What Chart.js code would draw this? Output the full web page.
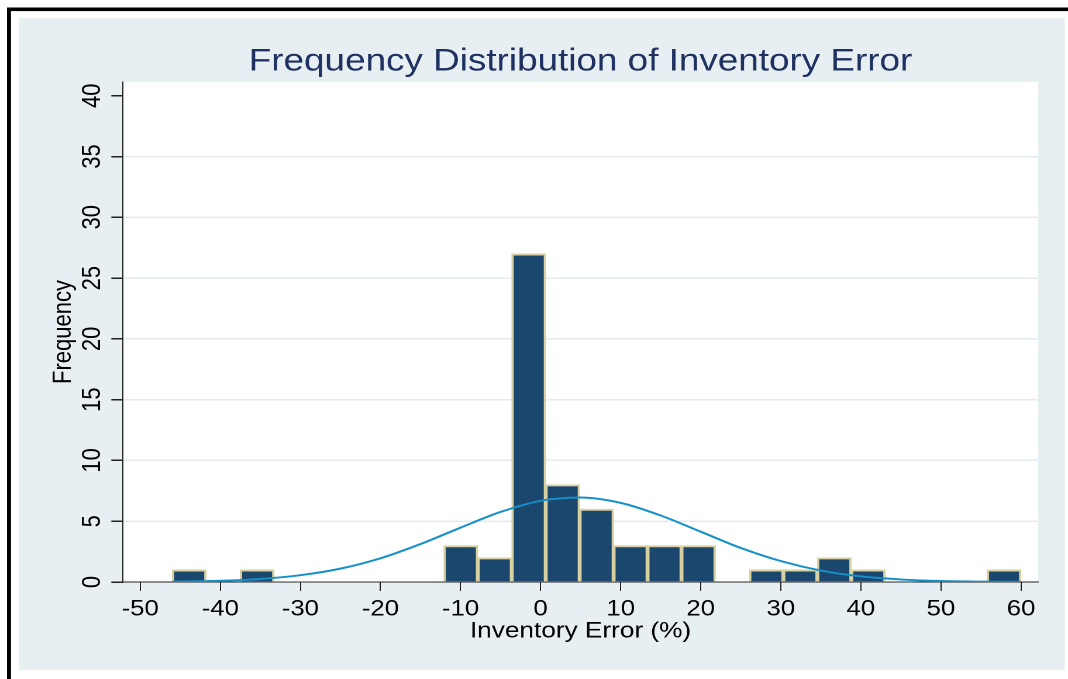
<!DOCTYPE html>
<html>
<head>
<meta charset="utf-8">
<script src="https://cdn.jsdelivr.net/npm/chart.js@4.4.1/dist/chart.umd.min.js"></script>
<style>
  html, body { margin: 0; padding: 0; background: #fff; overflow: hidden; }
  /* the reference is a Stata graph stretched sideways, so draw narrow and stretch */
  #wrap { width: 913px; height: 679px; transform: scaleX(1.16977); transform-origin: 0 0; }
</style>
</head>
<body>
<div id="wrap"><canvas id="histChart" width="913" height="679"></canvas></div>
<script>
// Histogram bins (width ~4.24, starting at -46)
const binCenters = [-43.88, -39.64, -35.40, -31.16, -26.92, -22.68, -18.44, -14.20, -9.96, -5.72,
                    -1.48, 2.76, 7.00, 11.24, 15.48, 19.72, 23.96, 28.20, 32.44, 36.68,
                    40.92, 45.16, 49.40, 53.64, 57.88];
const counts = [1, 0, 1, 0, 0, 0, 0, 0, 3, 2,
                27, 8, 6, 3, 3, 3, 0, 1, 1, 2,
                1, 0, 0, 0, 1];

// Normal density overlay
const curveX = [-46, -40, -35, -30, -25, -20, -15, -10, -5, 0, 5, 10, 15, 20, 25, 30, 35, 40, 45, 50, 55, 60];
const curveY = [0.03, 0.10, 0.25, 0.56, 1.10, 1.95, 3.12, 4.47, 5.76, 6.68, 6.95, 6.51, 5.47, 4.14, 2.80, 1.72, 0.94, 0.46, 0.21, 0.08, 0.03, 0.01];

// Axis ticks
const xTicks = [-50, -40, -30, -20, -10, 0, 10, 20, 30, 40, 50, 60];
const yTicks = [0, 5, 10, 15, 20, 25, 30, 35, 40];
const yTickLabels = ['0', '5', '10', '15', '20', '25', '30', '35', '40'];

const fontFamily = '"Liberation Sans", Arial, Helvetica, sans-serif';

// Graph region: black frame, light blue-grey area, white plot area
const backgroundPlugin = {
    id: 'stataBackground',
    beforeDraw(chart) {
        const ctx = chart.ctx;
        const a = chart.chartArea;
        ctx.save();
        ctx.fillStyle = '#000';
        ctx.fillRect(6, 7.5, 907, 3.6);
        ctx.fillRect(6, 7.5, 3.4, 672);
        ctx.fillStyle = '#e8eff2';
        ctx.fillRect(16.2, 18, 894.2, 652);
        ctx.fillStyle = '#fff';
        ctx.fillRect(a.left, a.top, a.right - a.left, a.bottom - a.top);
        ctx.restore();
    }
};

// Stata writes the y tick labels turned on their side
const yLabelPlugin = {
    id: 'rotatedYTicks',
    afterDraw(chart) {
        const scale = chart.scales.y;
        const ctx = chart.ctx;
        ctx.save();
        ctx.font = '22px ' + fontFamily;
        ctx.fillStyle = '#000';
        ctx.textAlign = 'center';
        ctx.textBaseline = 'middle';
        yTicks.forEach(function(v, i) {
            ctx.save();
            ctx.translate(79.3, scale.getPixelForValue(v));
            ctx.rotate(-Math.PI / 2);
            ctx.fillText(yTickLabels[i], 0, 0);
            ctx.restore();
        });
        ctx.restore();
    }
};

new Chart(document.getElementById('histChart'), {
    type: 'bar',
    data: {
        datasets: [{
            type: 'line',
            label: 'Normal',
            data: curveX.map((x, i) => ({ x: x, y: curveY[i] })),
            borderColor: '#1590c8',
            borderWidth: 2,
            pointRadius: 0,
            cubicInterpolationMode: 'monotone',
            fill: false,
            order: 0
        }, {
            type: 'bar',
            label: 'Frequency',
            data: binCenters.map((x, i) => ({ x: x, y: counts[i] })),
            backgroundColor: '#1b466e',
            borderColor: '#d8d0a0',
            borderWidth: c => (c.raw && c.raw.y > 0 ? 2 : 0),
            borderSkipped: 'start',
            barPercentage: 1,
            categoryPercentage: 1,
            order: 1
        }]
    },
    options: {
        responsive: false,
        devicePixelRatio: 2,
        animation: false,
        layout: { padding: { top: 43, right: 25.6, bottom: 27, left: 0 } },
        plugins: {
            legend: { display: false },
            tooltip: { enabled: false },
            title: {
                display: true,
                text: 'Frequency Distribution of Inventory Error',
                color: '#1e3160',
                fullSize: false,
                font: { family: fontFamily, size: 31.5, weight: 'normal' },
                padding: { top: 0, bottom: 1.2 }
            }
        },
        scales: {
            x: {
                type: 'linear',
                min: -52.15,
                max: 62.13,
                offset: false,
                afterBuildTicks: s => { s.ticks = xTicks.map(v => ({ value: v })); },
                afterFit: s => { s.height = 70; },
                ticks: {
                    color: '#000',
                    font: { family: fontFamily, size: 22 },
                    padding: 5,
                    maxRotation: 0,
                    autoSkip: false
                },
                grid: {
                    offset: false,
                    drawOnChartArea: false,
                    drawTicks: true,
                    tickLength: 9,
                    tickColor: '#222'
                },
                border: { color: '#222', width: 1 },
                title: {
                    display: true,
                    text: 'Inventory Error (%)',
                    color: '#000',
                    font: { family: fontFamily, size: 22.4 },
                    padding: { top: 0, bottom: 7.4 }
                }
            },
            y: {
                min: 0,
                max: 41.13,
                afterBuildTicks: s => { s.ticks = yTicks.map(v => ({ value: v })); },
                afterFit: s => { s.width = 105.15; },
                ticks: { display: false },
                grid: {
                    color: c => (c.tick && c.tick.value > 0 && c.tick.value < 40 ? '#e3ebef' : 'rgba(0,0,0,0)'),
                    lineWidth: 1.5,
                    drawTicks: true,
                    tickLength: 10,
                    tickColor: '#222'
                },
                border: { color: '#222', width: 1 },
                title: {
                    display: true,
                    text: 'Frequency',
                    color: '#000',
                    font: { family: fontFamily, size: 22 },
                    padding: { top: 41.4, bottom: 0 }
                }
            }
        }
    },
    plugins: [backgroundPlugin, yLabelPlugin]
});
</script>
</body>
</html>
